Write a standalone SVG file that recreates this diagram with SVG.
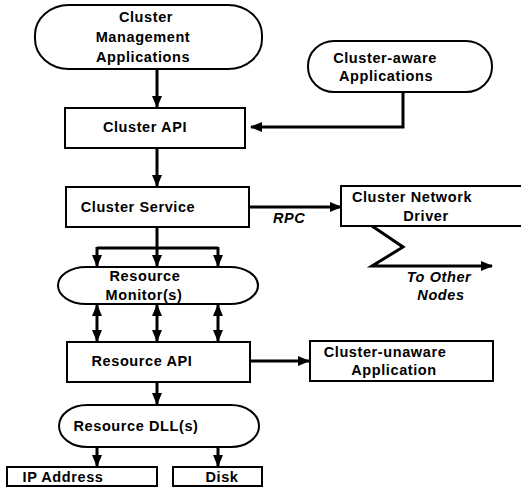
<svg xmlns="http://www.w3.org/2000/svg" width="521" height="491" viewBox="0 0 521 491">
<style>
.box{fill:#fff;stroke:#000;stroke-width:2}
.t{font-family:"Liberation Sans",Arial,sans-serif;font-weight:bold;font-size:14.5px;letter-spacing:0.6px;fill:#000}
.i{font-style:italic}
.c{fill:none;stroke:#000;stroke-width:3}
</style>
<defs>
<marker id="ah" viewBox="0 0 12 10" refX="11" refY="5" markerWidth="12" markerHeight="11" markerUnits="userSpaceOnUse" orient="auto-start-reverse">
<path d="M0,0 L12,5 L0,10 z" fill="#000"/>
</marker>
</defs>
<rect width="521" height="491" fill="#fff"/>
<g id="connectors">
<path class="c" d="M157,69 V107" marker-end="url(#ah)"/>
<path class="c" d="M403,92 V127 H251" marker-end="url(#ah)"/>
<path class="c" d="M157,148 V186" marker-end="url(#ah)"/>
<path class="c" d="M157,227 V266" marker-end="url(#ah)"/>
<path class="c" d="M97,248 H218"/>
<path class="c" d="M97,247 V266" marker-end="url(#ah)"/>
<path class="c" d="M218,247 V266" marker-end="url(#ah)"/>
<path class="c" d="M97,305 V341" marker-start="url(#ah)" marker-end="url(#ah)"/>
<path class="c" d="M157,305 V341" marker-start="url(#ah)" marker-end="url(#ah)"/>
<path class="c" d="M218,305 V341" marker-start="url(#ah)" marker-end="url(#ah)"/>
<path class="c" d="M250,361 H309" marker-end="url(#ah)"/>
<path class="c" d="M157,382 V404" marker-end="url(#ah)"/>
<path class="c" d="M97,447 V466" marker-end="url(#ah)"/>
<path class="c" d="M218,447 V466" marker-end="url(#ah)"/>
<path class="c" d="M249,207 H341" marker-end="url(#ah)"/>
<path class="c" d="M372,226 L403,247 L372,266 H492" marker-end="url(#ah)"/>
<text class="t i" x="273" y="223">RPC</text>
<text class="t i" x="439" y="282" text-anchor="middle">To Other</text>
<text class="t i" x="441" y="300" text-anchor="middle">Nodes</text>
</g>
<g id="cluster-management">
<rect class="box" x="35" y="5" width="227" height="64" rx="34" ry="30"/>
<text class="t" x="146" y="22" text-anchor="middle">Cluster</text>
<text class="t" x="143" y="42" text-anchor="middle">Management</text>
<text class="t" x="143" y="62" text-anchor="middle">Applications</text>
</g>
<g id="cluster-aware">
<rect class="box" x="308" y="41" width="184" height="51" rx="26" ry="25"/>
<text class="t" x="385" y="63" text-anchor="middle">Cluster-aware</text>
<text class="t" x="386" y="81" text-anchor="middle">Applications</text>
</g>
<g id="cluster-api">
<rect class="box" x="65" y="108" width="180" height="40"/>
<text class="t" x="145" y="132" text-anchor="middle">Cluster API</text>
</g>
<g id="cluster-service">
<rect class="box" x="66" y="187" width="183" height="40"/>
<text class="t" x="138" y="212" text-anchor="middle">Cluster Service</text>
</g>
<g id="cluster-network-driver">
<rect class="box" x="341" y="186" width="200" height="40"/>
<text class="t" x="412" y="202" text-anchor="middle">Cluster Network</text>
<text class="t" x="426" y="221" text-anchor="middle">Driver</text>
</g>
<g id="resource-monitor">
<rect class="box" x="58" y="267" width="200" height="37" rx="28" ry="18.5"/>
<text class="t" x="145" y="281" text-anchor="middle">Resource</text>
<text class="t" x="144" y="300" text-anchor="middle">Monitor(s)</text>
</g>
<g id="resource-api">
<rect class="box" x="67" y="342" width="183" height="40"/>
<text class="t" x="142" y="366" text-anchor="middle">Resource API</text>
</g>
<g id="cluster-unaware">
<rect class="box" x="310" y="341" width="183" height="40"/>
<text class="t" x="385" y="357" text-anchor="middle">Cluster-unaware</text>
<text class="t" x="394" y="375" text-anchor="middle">Application</text>
</g>
<g id="resource-dll">
<rect class="box" x="59" y="405" width="200" height="42" rx="28" ry="21"/>
<text class="t" x="136" y="431" text-anchor="middle">Resource DLL(s)</text>
</g>
<g id="ip-address">
<rect class="box" x="7" y="467" width="150" height="19"/>
<text class="t" x="63" y="482" text-anchor="middle">IP Address</text>
</g>
<g id="disk">
<rect class="box" x="173" y="467" width="89" height="19"/>
<text class="t" x="222" y="482" text-anchor="middle">Disk</text>
</g>
</svg>
